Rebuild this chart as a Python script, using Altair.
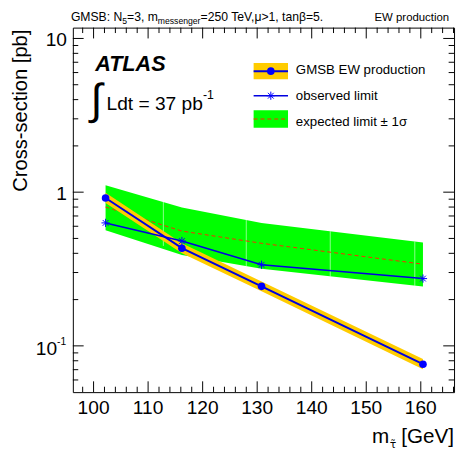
import altair as alt
import pandas as pd

W, H = 388, 371

# ---- data ----
mass = [102.2, 116.2, 130.8, 160.4]
gmsb = [0.916, 0.432, 0.244, 0.076]
gmsb_lo = [0.85, 0.40, 0.227, 0.0705]
gmsb_hi = [0.99, 0.465, 0.262, 0.082]
observed = [0.631, 0.481, 0.337, 0.274]
expected = [0.80, 0.558, 0.465, 0.34]
exp_lo = [0.566, 0.390, 0.318, 0.243]
exp_hi = [1.11, 0.794, 0.631, 0.47]

gap_mass = [112.8, 128.0, 143.4, 158.9]
gap_lo = [0.447, 0.330, 0.283, 0.246]
gap_hi = [0.88, 0.659, 0.557, 0.477]

x_major = [100, 110, 120, 130, 140, 150, 160]
x_minor = [98, 102, 104, 106, 108, 112, 114, 116, 118, 122, 124, 126, 128,
           132, 134, 136, 138, 142, 144, 146, 148, 152, 154, 156, 158,
           162, 164, 166]
y_major = [0.1, 1, 10]
y_minor = [0.06, 0.07, 0.08, 0.09, 0.2, 0.3, 0.4, 0.5, 0.6, 0.7, 0.8, 0.9,
           2, 3, 4, 5, 6, 7, 8, 9]
x_labels = ["100", "110", "120", "130", "140", "150", "160"]
y_label_vals = [10, 1]
y_label_txt = ["10", "1"]

legend_labels = ["GMSB EW production", "observed limit", "expected limit \u00b1 1\u03c3"]

FONT = "Liberation Sans"
BLUE = "#0000ff"
YELLOW = "#ffcc00"
GREEN = "#00ff00"
RED = "#ff2a00"

xs = alt.Scale(domain=[96.2, 166.1], nice=False, zero=False)
ys = alt.Scale(type="log", domain=[0.05, 11.76], nice=False)

df = pd.DataFrame({"m": mass, "gmsb": gmsb, "glo": gmsb_lo, "ghi": gmsb_hi,
                   "obs": observed, "exp": expected, "elo": exp_lo, "ehi": exp_hi})
gaps = pd.DataFrame({"m": gap_mass, "lo": gap_lo, "hi": gap_hi})

X = alt.X("m:Q", scale=xs, axis=None)

green = alt.Chart(df).mark_area(color=GREEN, opacity=1).encode(
    x=X, y=alt.Y("elo:Q", scale=ys, axis=None), y2="ehi:Q")
white = alt.Chart(gaps).mark_rule(color="white", strokeWidth=1, opacity=0.55).encode(
    x=X, y=alt.Y("lo:Q", scale=ys, axis=None), y2="hi:Q")
exp_line = alt.Chart(df).mark_line(color=RED, strokeWidth=1, strokeDash=[4, 3]).encode(
    x=X, y=alt.Y("exp:Q", scale=ys, axis=None))
yellow = alt.Chart(df).mark_area(color=YELLOW, opacity=1).encode(
    x=X, y=alt.Y("glo:Q", scale=ys, axis=None), y2="ghi:Q")
g_line = alt.Chart(df).mark_line(color="#0000e0", strokeWidth=2).encode(
    x=X, y=alt.Y("gmsb:Q", scale=ys, axis=None))
g_pts = alt.Chart(df).mark_point(shape="circle", filled=True, color=BLUE, size=60, opacity=1).encode(
    x=X, y=alt.Y("gmsb:Q", scale=ys, axis=None))
o_line = alt.Chart(df).mark_line(color="#0000e0", strokeWidth=1.6).encode(
    x=X, y=alt.Y("obs:Q", scale=ys, axis=None))
STAR = "M-1,0L1,0M0,-1L0,1M-0.7,-0.7L0.7,0.7M-0.7,0.7L0.7,-0.7"
o_pts = alt.Chart(df).mark_point(shape=STAR, filled=False, color=BLUE, size=70,
                                 strokeWidth=1, opacity=1).encode(
    x=X, y=alt.Y("obs:Q", scale=ys, axis=None))


def xticks(vals, y0, y1):
    return alt.Chart(pd.DataFrame({"v": vals})).mark_rule(color="black", strokeWidth=1).encode(
        x=alt.X("v:Q", scale=xs, axis=None), y=alt.value(y0), y2=alt.value(y1))


def yticks(vals, x0, x1):
    return alt.Chart(pd.DataFrame({"v": vals})).mark_rule(color="black", strokeWidth=1).encode(
        y=alt.Y("v:Q", scale=ys, axis=None), x=alt.value(x0), x2=alt.value(x1))


ticks = [
    xticks(x_major, H, H - 11), xticks(x_minor, H, H - 5.5),
    xticks(x_major, 0, 11), xticks(x_minor, 0, 5.5),
    yticks(y_major, 0, 11), yticks(y_minor, 0, 5.5),
    yticks(y_major, W, W - 11), yticks(y_minor, W, W - 5.5),
]

xlab = alt.Chart(pd.DataFrame({"v": x_major, "t": x_labels})).mark_text(
    font=FONT, fontSize=19.5, align="center", baseline="alphabetic", color="black").encode(
    x=alt.X("v:Q", scale=xs, axis=None), y=alt.value(H + 22), text="t:N")
ylab = alt.Chart(pd.DataFrame({"v": y_label_vals, "t": y_label_txt})).mark_text(
    font=FONT, fontSize=19.5, align="right", baseline="middle", dy=1.5, color="black").encode(
    y=alt.Y("v:Q", scale=ys, axis=None), x=alt.value(-6), text="t:N")
ylab_m1 = alt.Chart(pd.DataFrame({"v": [0.1], "t": ["10"]})).mark_text(
    font=FONT, fontSize=19.5, align="right", baseline="middle", dy=3, color="black").encode(
    y=alt.Y("v:Q", scale=ys, axis=None), x=alt.value(-16), text="t:N")
ylab_m1s = alt.Chart(pd.DataFrame({"v": [0.1], "t": ["-1"]})).mark_text(
    font=FONT, fontSize=10.5, align="left", baseline="middle", dy=-4, color="black").encode(
    y=alt.Y("v:Q", scale=ys, axis=None), x=alt.value(-16), text="t:N")


def label(t, x, y, size, align="left", baseline="alphabetic", angle=0, **kw):
    return alt.Chart(pd.DataFrame({"t": [t]})).mark_text(
        font=kw.pop("font", FONT), fontSize=size, align=align, baseline=baseline,
        angle=angle, color=kw.pop("color", "black"), **kw).encode(
        x=alt.value(x), y=alt.value(y), text="t:N")


texts = [
    # top header
    label("GMSB: N", -2, -7, 12.4),
    label("5", 50.4, -4, 8.8),
    label("=3, m", 55.2, -7, 12.4),
    label("messenger", 86.5, -4, 8.8),
    label("=250 TeV,\u03bc>1, tan\u03b2=5.", 130, -7, 12.4),
    label("EW production", 383, -7, 11.6, align="right"),
    # ATLAS
    label("ATLAS", 22.7, 44.3, 22, fontWeight="bold", fontStyle="italic"),
    label("\u222b", 18, 88, 44),
    label("Ldt = 37 pb", 34.3, 84.3, 19.5),
    label("-1", 132.5, 73, 12.5),
    # axis titles
    label("Cross-section [pb]", -47, 2, 20.5, align="right", angle=270),
    label("[GeV]", W, 423, 21, align="right"),
    label("m", 322, 423, 21, align="right"),
    label("\u03c4\u0303", 322.5, 428, 11, font="DejaVu Sans"),
    # legend text
    label(legend_labels[0], 227, 43.5, 13.5, baseline="middle"),
    label(legend_labels[1], 227, 69.5, 13.5, baseline="middle"),
    label(legend_labels[2], 227, 96, 13.5, baseline="middle"),
]

one = pd.DataFrame({"a": [0]})
legend = [
    alt.Chart(one).mark_rect(color=YELLOW).encode(
        x=alt.value(184), x2=alt.value(219), y=alt.value(36), y2=alt.value(52.5)),
    alt.Chart(one).mark_rule(color="#0000e0", strokeWidth=2).encode(
        x=alt.value(184), x2=alt.value(219), y=alt.value(44.3)),
    alt.Chart(one).mark_point(shape="circle", filled=True, color=BLUE, size=60, opacity=1).encode(
        x=alt.value(201.5), y=alt.value(44.3)),
    alt.Chart(one).mark_rule(color="#0000e0", strokeWidth=1.6).encode(
        x=alt.value(184), x2=alt.value(219), y=alt.value(69.3)),
    alt.Chart(one).mark_point(shape=STAR, filled=False, color=BLUE, size=70, strokeWidth=1,
                              opacity=1).encode(x=alt.value(201.5), y=alt.value(69.3)),
    alt.Chart(one).mark_rect(color=GREEN).encode(
        x=alt.value(184), x2=alt.value(219), y=alt.value(84), y2=alt.value(102)),
    alt.Chart(one).mark_rule(color=RED, strokeWidth=1, strokeDash=[4, 3]).encode(
        x=alt.value(184), x2=alt.value(219), y=alt.value(93)),
]

chart = alt.layer(
    green, white, exp_line, yellow, g_line, g_pts, o_line, o_pts,
    *ticks, xlab, ylab, ylab_m1, ylab_m1s, *texts, *legend
).properties(
    width=W, height=H,
    padding={"left": 66, "top": 16, "right": 3, "bottom": 60},
    autosize=alt.AutoSizeParams(type="none"),
    background="white",
).configure_view(stroke="black", strokeWidth=1)

chart.save("out.html", embed_options={"renderer": "svg", "actions": False})
